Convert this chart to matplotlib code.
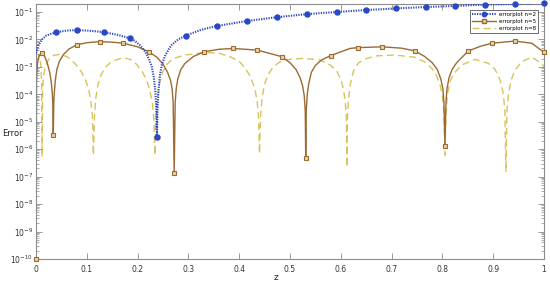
import numpy as np
import matplotlib
matplotlib.use("Agg")
import matplotlib.pyplot as plt
from matplotlib.ticker import LogLocator, NullFormatter, FixedLocator
from matplotlib.lines import Line2D

# ---- data (log10 of error) ----
n2_z = [0.0, 0.005, 0.012, 0.02, 0.039, 0.06, 0.081, 0.11, 0.134, 0.16, 0.185, 0.195,
        0.205, 0.215, 0.222, 0.228, 0.232, 0.235, 0.237, 0.238, 0.239, 0.241, 0.244,
        0.248, 0.254, 0.26, 0.267, 0.28, 0.295, 0.325, 0.356,
        0.415, 0.474, 0.533, 0.592, 0.650, 0.709, 0.767, 0.825, 0.884, 0.943, 1.0]
n2_log = [-2.5, -2.2, -2.0, -1.86, -1.74, -1.68, -1.66, -1.69, -1.74, -1.83, -1.96, -2.06,
          -2.22, -2.45, -2.7, -3.0, -3.4, -3.9, -4.6, -5.55, -4.6, -3.9, -3.3,
          -2.9, -2.6, -2.4, -2.2, -2.0, -1.86, -1.65, -1.51,
          -1.33, -1.19, -1.08, -1.0, -0.93, -0.87, -0.82, -0.78, -0.73, -0.71, -0.68]
n2_mz = [0.039, 0.081, 0.134, 0.185, 0.238, 0.295, 0.356, 0.415, 0.474, 0.533, 0.592,
         0.650, 0.709, 0.767, 0.825, 0.884, 0.943, 1.0]
n2_mlog = [-1.74, -1.66, -1.74, -1.96, -5.55, -1.86, -1.51, -1.33, -1.19, -1.08, -1.0,
           -0.93, -0.87, -0.82, -0.78, -0.73, -0.71, -0.68]

n5_z = [0.0, 0.001, 0.003, 0.006, 0.011, 0.017, 0.022, 0.027, 0.030, 0.032, 0.033, 0.034,
        0.035, 0.036, 0.038, 0.041, 0.046, 0.054, 0.065, 0.08,
        0.1, 0.125, 0.15, 0.172, 0.2, 0.222, 0.238, 0.25, 0.259, 0.265, 0.268, 0.270,
        0.272, 0.274, 0.276, 0.279, 0.285, 0.293, 0.31, 0.331, 0.36, 0.388, 0.436,
        0.484, 0.500, 0.512, 0.520, 0.525, 0.528, 0.530, 0.531, 0.532, 0.534, 0.537,
        0.542, 0.550, 0.562, 0.580, 0.618, 0.633, 0.682, 0.72, 0.746,
        0.765, 0.780, 0.790, 0.797, 0.801, 0.803, 0.805, 0.807, 0.809, 0.813, 0.819,
        0.828, 0.851, 0.875, 0.897, 0.943, 0.976, 1.0]
n5_log = [-10.0, -3.4, -2.85, -2.6, -2.51, -2.62, -2.85, -3.2, -3.55, -3.95, -4.3, -5.49,
          -4.3, -3.95, -3.5, -3.1, -2.8, -2.55, -2.35, -2.2,
          -2.12, -2.08, -2.1, -2.14, -2.27, -2.45, -2.65, -2.9, -3.2, -3.5, -3.8, -4.3,
          -6.85, -4.3, -3.8, -3.45, -3.1, -2.88, -2.62, -2.45, -2.36, -2.33, -2.39,
          -2.63, -2.85, -3.1, -3.4, -3.7, -4.05, -4.6, -6.32, -4.6, -4.0, -3.6,
          -3.2, -2.95, -2.75, -2.59, -2.33, -2.3, -2.27, -2.32, -2.42,
          -2.62, -2.85, -3.1, -3.45, -3.8, -4.3, -5.88, -4.3, -3.8, -3.4, -3.1,
          -2.85, -2.42, -2.25, -2.14, -2.06, -2.14, -2.47]
n5_mz = [0.0, 0.011, 0.034, 0.080, 0.125, 0.172, 0.222, 0.272, 0.331, 0.388, 0.436,
         0.484, 0.531, 0.580, 0.633, 0.682, 0.746, 0.805, 0.851, 0.897, 0.943, 1.0]
n5_mlog = [-10.0, -2.51, -5.49, -2.2, -2.08, -2.14, -2.45, -6.85, -2.45, -2.33, -2.39,
           -2.63, -6.32, -2.59, -2.3, -2.27, -2.42, -5.88, -2.42, -2.14, -2.06, -2.47]

n8_z = [0.0, 0.001, 0.003, 0.006, 0.009, 0.011, 0.012, 0.013, 0.015, 0.019, 0.025, 0.035,
        0.045, 0.06, 0.07, 0.08, 0.09, 0.098, 0.104, 0.108, 0.111, 0.113, 0.115, 0.118,
        0.122, 0.128, 0.137, 0.15, 0.165, 0.178, 0.19, 0.2, 0.21, 0.218, 0.224, 0.229,
        0.232, 0.234, 0.236, 0.239, 0.243, 0.249, 0.258, 0.27, 0.293, 0.333, 0.36,
        0.382, 0.400, 0.412, 0.422, 0.430, 0.435, 0.438, 0.44, 0.442, 0.445, 0.449,
        0.456, 0.467, 0.48, 0.493, 0.526, 0.559, 0.578, 0.592, 0.600, 0.605, 0.609,
        0.611, 0.612, 0.613, 0.615, 0.619, 0.625, 0.635, 0.65, 0.67, 0.707, 0.746,
        0.765, 0.779, 0.789, 0.796, 0.800, 0.803, 0.805, 0.807, 0.810, 0.815, 0.822,
        0.838, 0.864, 0.89, 0.903, 0.911, 0.916, 0.920, 0.923, 0.925, 0.927, 0.930,
        0.935, 0.942, 0.956, 0.976, 0.995, 1.0]
n8_log = [-10.0, -3.5, -2.75, -2.55, -2.85, -3.5, -6.28, -3.8, -3.3, -2.95, -2.72, -2.58,
          -2.55, -2.62, -2.75, -2.95, -3.2, -3.5, -3.85, -4.25, -4.8, -6.22, -4.8, -4.1,
          -3.65, -3.3, -3.0, -2.8, -2.7, -2.69, -2.76, -2.95, -3.2, -3.5, -3.85, -4.3,
          -4.9, -6.22, -4.9, -4.2, -3.6, -3.2, -2.9, -2.7, -2.57, -2.48, -2.5,
          -2.63, -2.8, -3.05, -3.35, -3.75, -4.2, -4.8, -6.16, -4.8, -4.15, -3.7,
          -3.3, -3.0, -2.82, -2.74, -2.69, -2.75, -2.92, -3.15, -3.45, -3.8, -4.3,
          -4.9, -6.65, -4.9, -4.2, -3.6, -3.15, -2.85, -2.7, -2.6, -2.57, -2.65,
          -2.82, -3.05, -3.35, -3.7, -4.1, -4.7, -6.22, -4.7, -4.0, -3.55, -3.25,
          -2.93, -2.73, -2.87, -3.08, -3.35, -3.65, -4.0, -4.6, -6.83, -4.6, -4.0,
          -3.5, -3.15, -2.81, -2.65, -2.87, -3.0]

labels = ["errorplot n=2", "errorplot n=5", "errorplot n=8"]
xticks = [0, 0.1, 0.2, 0.3, 0.4, 0.5, 0.6, 0.7, 0.8, 0.9, 1]
xticklabels = ["0", "0.1", "0.2", "0.3", "0.4", "0.5", "0.6", "0.7", "0.8", "0.9", "1"]
ydecades = list(range(-10, 0))

c2 = "#2b47c4"
c5 = "#9c6a32"
c8 = "#d8c35c"
mf5 = "#e6d3a0"

fig = plt.figure(figsize=(5.5, 2.82), dpi=100)
ax = fig.add_axes([36/550, 23/282, 508/550, 255/282])

p = lambda a: 10.0 ** np.asarray(a)

ax.plot(n2_z, p(n2_log), color=c2, lw=1.5, ls=(0, (0.6, 0.6)), zorder=3)
ax.plot(n2_mz, p(n2_mlog), ls="none", marker="o", ms=3.6, mfc=c2, mec=c2, zorder=4,
        clip_on=False)
ax.plot(n5_z, p(n5_log), color=c5, lw=1.0, zorder=2)
ax.plot(n5_mz, p(n5_mlog), ls="none", marker="s", ms=3.2, mfc=mf5, mec=c5,
        mew=0.8, zorder=4, clip_on=False)
ax.plot(n8_z, p(n8_log), color=c8, lw=1.0, ls=(0, (5, 3)), zorder=1)

h2 = Line2D([], [], color=c2, lw=1.5, ls=(0, (0.6, 0.6)), marker="o", ms=3.2, mfc=c2, mec=c2)
h5 = Line2D([], [], color=c5, lw=1.0, marker="s", ms=3.0, mfc=mf5, mec=c5)
h8 = Line2D([], [], color=c8, lw=1.0, ls=(0, (5, 3)))
leg = ax.legend([h2, h5, h8], labels, loc="upper right", fontsize=4,
                bbox_to_anchor=(1 - 6/508, 1 - 6/255), frameon=True, fancybox=False,
                edgecolor="#555555", framealpha=1, borderpad=0.35, labelspacing=0.35,
                handlelength=4.2, handletextpad=0.6, borderaxespad=0.0)
leg.get_frame().set_linewidth(0.6)

ax.set_xlim(0, 1)
ax.set_yscale("log")
ax.set_ylim(1e-10, 10 ** -0.71)

ax.set_xticks(xticks)
ax.set_xticklabels(xticklabels)
ax.yaxis.set_major_locator(FixedLocator([10.0 ** d for d in ydecades]))
ax.set_yticklabels([r"$10^{%d}$" % d for d in ydecades])
ax.yaxis.set_minor_locator(LogLocator(base=10, subs=np.arange(2, 10), numticks=20))
ax.yaxis.set_minor_formatter(NullFormatter())

gray = "#8c8c8c"
for s in ax.spines.values():
    s.set_color(gray)
    s.set_linewidth(0.8)
ax.tick_params(which="both", direction="in", top=True, right=True, colors=gray,
               labelcolor="#333333", labelsize=5.5)
ax.tick_params(which="major", length=4, width=0.6)
ax.tick_params(which="minor", length=2, width=0.5)
ax.tick_params(axis="x", pad=4)
ax.tick_params(axis="y", pad=2)

fig.text(2/550, 1 - 134/282, "Error", fontsize=6, color="#222222", ha="left", va="center")
fig.text(276/550, 1 - 277/282, "z", fontsize=6.5, color="#222222", ha="center", va="center")

fig.savefig("out.png", dpi=100, facecolor="white")
